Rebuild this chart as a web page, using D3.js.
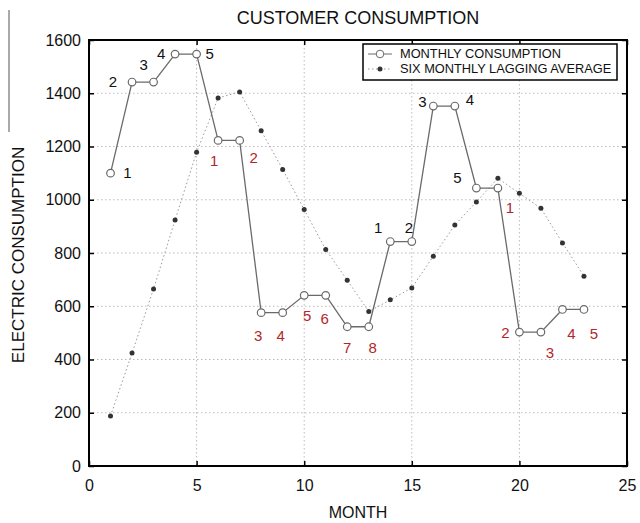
<!DOCTYPE html>
<html>
<head>
<meta charset="utf-8">
<script src="https://cdn.jsdelivr.net/npm/d3@7"></script>
<style>
  body { margin: 0; background: #fff; }
  text { font-family: "Liberation Sans", Arial, sans-serif; }
</style>
</head>
<body>
<svg id="chart" width="640" height="523"></svg>
<script>
// months 1..23
const months = d3.range(1, 24);
const monthly = [1100, 1442, 1442, 1547, 1547, 1223, 1223, 576, 576, 641, 641, 523, 523,
  843, 843, 1352, 1352, 1044, 1044, 503, 503, 588, 588];
const lagging = [188, 424, 665, 924, 1178, 1382, 1405, 1259, 1114, 963, 813, 698, 580,
  624, 669, 788, 905, 992, 1081, 1024, 968, 838, 713];
// point annotations: text and group (black / red)
const pointLabels = ["1","2","3","4","5","1","2","3","4","5","6","7","8",
  "1","2","3","4","5","1","2","3","4","5"];
const labelGroup = ["k","k","k","k","k","r","r","r","r","r","r","r","r",
  "k","k","k","k","k","r","r","r","r","r"];
const xTicks = [0, 5, 10, 15, 20, 25];
const yTicks = [0, 200, 400, 600, 800, 1000, 1200, 1400, 1600];
const legendNames = ["MONTHLY CONSUMPTION", "SIX MONTHLY LAGGING AVERAGE"];

var svg = d3.select("#chart"),
  margin = {top: 40, left: 89, bottom: 57, right: 13},
  width = +svg.attr("width") - margin.left - margin.right,
  height = +svg.attr("height") - margin.top - margin.bottom;

var x = d3.scaleLinear().domain([0, 25]).range([0, width]);
var y = d3.scaleLinear().domain([0, 1600]).range([height, 0]);

// label offsets (px) from each point, tuned by eye
const labelOffsets = [[17,0],[-19,0],[-10,-17],[-14,0],[13,0],[-4,20],[14,17],[-3,23],
  [-2,23],[3,20],[-1,23],[0,21],[4,21],[-12,-14],[-3,-14],[-11,-4],[15,-6],[-19,-10],
  [12,20],[-14,1],[9,21],[9,24],[10,24]];

var g = svg.append("g").attr("transform", "translate(" + margin.left + "," + margin.top + ")");

// grid
g.append("g").selectAll("line").data(xTicks.slice(1, -1))
  .enter().append("line")
  .attr("x1", d => x(d)).attr("x2", d => x(d))
  .attr("y1", 0).attr("y2", height)
  .attr("stroke", "#bbb").attr("stroke-dasharray", "1.5,2.5");
g.append("g").selectAll("line").data(yTicks.slice(1, -1))
  .enter().append("line")
  .attr("y1", d => y(d)).attr("y2", d => y(d))
  .attr("x1", 0).attr("x2", width)
  .attr("stroke", "#bbb").attr("stroke-dasharray", "1.5,2.5");

// axes
var xAxis = g.append("g").attr("transform", "translate(0," + height + ")")
  .call(d3.axisBottom(x).tickValues(xTicks).tickFormat(d3.format("d"))
    .tickSizeInner(-5).tickSizeOuter(0).tickPadding(14));
var yAxis = g.append("g")
  .call(d3.axisLeft(y).tickValues(yTicks).tickFormat(d3.format("d"))
    .tickSizeInner(-5).tickSizeOuter(0).tickPadding(8));
g.append("g").call(d3.axisTop(x).tickValues(xTicks).tickSizeInner(-5).tickSizeOuter(0).tickFormat(""));
g.append("g").attr("transform", "translate(" + width + ",0)")
  .call(d3.axisRight(y).tickValues(yTicks).tickSizeInner(-5).tickSizeOuter(0).tickFormat(""));
g.selectAll(".domain").remove();
g.selectAll(".tick line").attr("stroke", "#000").attr("stroke-width", 1.5);
[xAxis, yAxis].forEach(a => a.selectAll("text")
  .style("font-size", "16px").attr("fill", "#111"));

g.append("rect").attr("width", width).attr("height", height)
  .attr("fill", "none").attr("stroke", "#000").attr("stroke-width", 2);

// lagging average
var lagLine = d3.line().x((d, i) => x(months[i])).y(d => y(d));
g.append("path").datum(lagging)
  .attr("d", lagLine).attr("fill", "none")
  .attr("stroke", "#999").attr("stroke-width", 1).attr("stroke-dasharray", "1.5,2.5");
g.selectAll(".lag").data(lagging).enter().append("circle")
  .attr("class", "lag")
  .attr("cx", (d, i) => x(months[i])).attr("cy", d => y(d))
  .attr("r", 2.5).attr("fill", "#333");

// monthly consumption
var monLine = d3.line().x((d, i) => x(months[i])).y(d => y(d));
g.append("path").datum(monthly)
  .attr("d", monLine).attr("fill", "none")
  .attr("stroke", "#6a6a6a").attr("stroke-width", 1.3);
g.selectAll(".mon").data(monthly).enter().append("circle")
  .attr("class", "mon")
  .attr("cx", (d, i) => x(months[i])).attr("cy", d => y(d))
  .attr("r", 3.8).attr("fill", "#fff").attr("stroke", "#6a6a6a").attr("stroke-width", 1.2);

// point numbers
g.selectAll(".plabel").data(pointLabels).enter().append("text")
  .attr("class", "plabel")
  .attr("x", (d, i) => x(months[i]) + labelOffsets[i][0])
  .attr("y", (d, i) => y(monthly[i]) + labelOffsets[i][1])
  .attr("text-anchor", "middle").attr("dy", "0.35em")
  .style("font-size", "15px")
  .attr("fill", (d, i) => labelGroup[i] === "r" ? "#b3262a" : "#111")
  .text(d => d);

// legend
var lg = g.append("g").attr("transform", "translate(274,4)");
lg.append("rect").attr("width", 254).attr("height", 36)
  .attr("fill", "#fff").attr("stroke", "#000").attr("stroke-width", 1.5);
var items = lg.selectAll(".item").data(legendNames).enter().append("g")
  .attr("transform", (d, i) => "translate(0," + (10 + i * 15) + ")");
items.append("line").attr("x1", 5).attr("x2", 29)
  .attr("stroke", (d, i) => i ? "#999" : "#6a6a6a")
  .attr("stroke-dasharray", (d, i) => i ? "1.5,2.5" : null);
items.filter((d, i) => i === 0).append("circle")
  .attr("cx", 17).attr("r", 3.8).attr("fill", "#fff").attr("stroke", "#6a6a6a");
items.filter((d, i) => i === 1).append("circle")
  .attr("cx", 17).attr("r", 2.5).attr("fill", "#333");
items.append("text").attr("x", 37).attr("dy", "0.35em")
  .style("font-size", "12.8px").attr("fill", "#111").text(d => d);

// titles
svg.append("text").attr("x", 358).attr("y", 24).attr("text-anchor", "middle")
  .style("font-size", "18px").attr("fill", "#111").text("CUSTOMER CONSUMPTION");
svg.append("text").attr("x", margin.left + width / 2).attr("y", 518).attr("text-anchor", "middle")
  .style("font-size", "16px").attr("fill", "#111").text("MONTH");
svg.append("text").attr("transform", "translate(24," + (margin.top + height / 2 + 2) + ") rotate(-90)")
  .attr("text-anchor", "middle")
  .style("font-size", "17px").attr("fill", "#111").text("ELECTRIC CONSUMPTION");
svg.append("line").attr("x1", 9).attr("x2", 9).attr("y1", 10).attr("y2", 132)
  .attr("stroke", "#555").attr("stroke-width", 1);
</script>
</body>
</html>
